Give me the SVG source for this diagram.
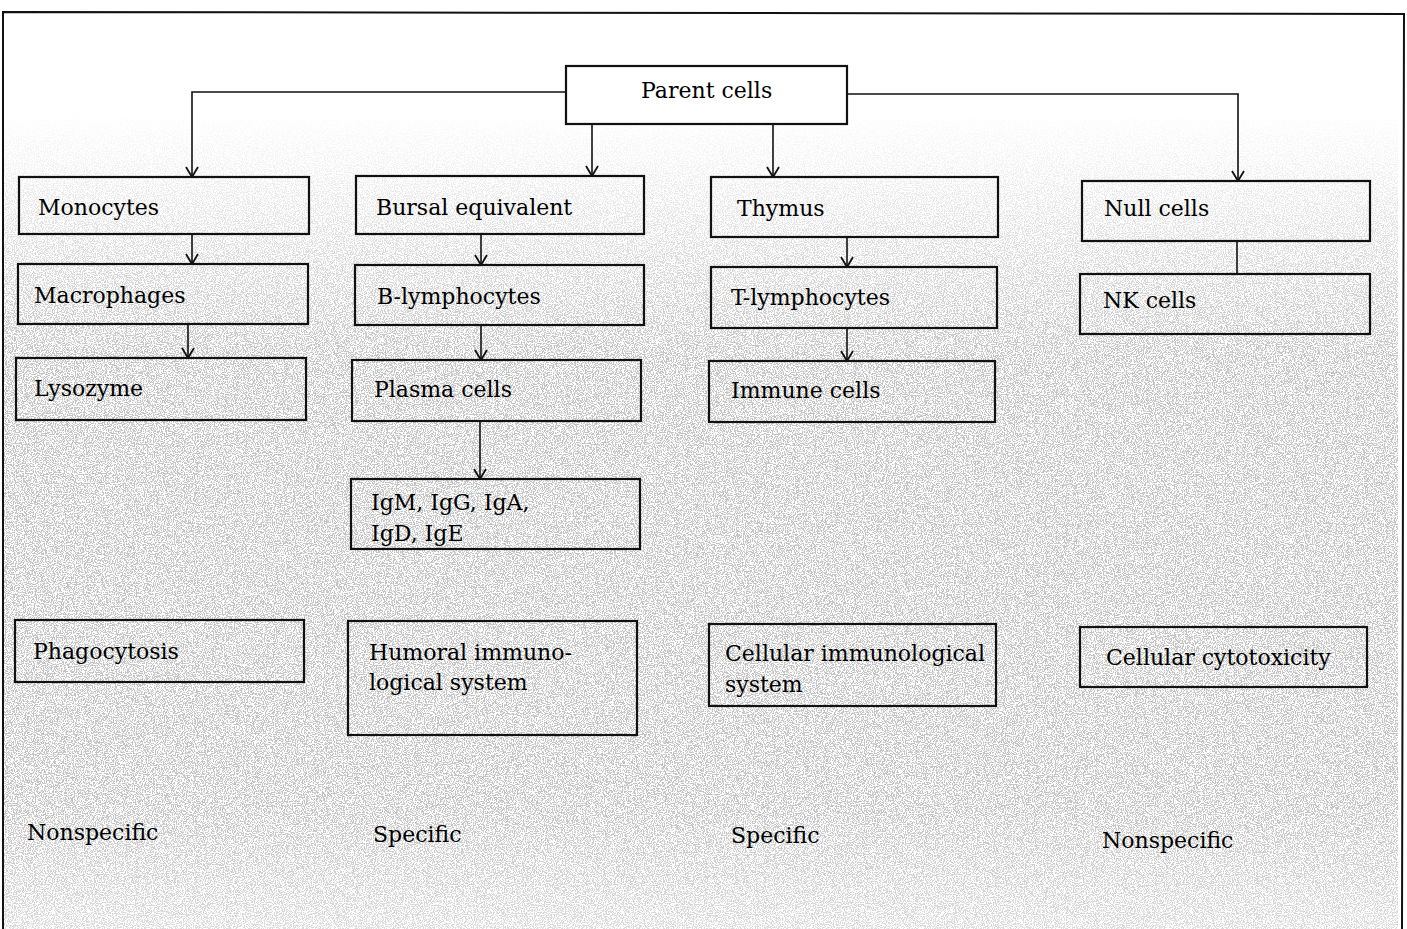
<svg xmlns="http://www.w3.org/2000/svg" width="1407" height="929" viewBox="0 0 1407 929">
<style>
.box{fill:none;stroke:#111;stroke-width:2.2}
.t{font-family:"DejaVu Serif","Liberation Serif",serif;font-size:22px;fill:#000}
.c{fill:none;stroke:#111;stroke-width:1.6}
.frame{fill:none;stroke:#111;stroke-width:2}
</style>
<defs>
<marker id="ah" viewBox="0 0 12 14" refX="11" refY="7" markerWidth="12" markerHeight="14" markerUnits="userSpaceOnUse" orient="auto">
<path d="M1,1 L11,7 L1,13" fill="none" stroke="#111" stroke-width="1.8"/>
</marker>
<filter id="speck" x="0" y="0" width="100%" height="100%">
<feTurbulence type="fractalNoise" baseFrequency="0.9" numOctaves="2" seed="7" result="n"/>
<feColorMatrix in="n" type="matrix" values="0 0 0 0 0.3  0 0 0 0 0.3  0 0 0 0 0.3  0 0 0 -9 4.9" result="d"/>
<feComposite in="d" in2="SourceGraphic" operator="in"/>
</filter>
<linearGradient id="fade" x1="0" y1="0" x2="0" y2="1">
<stop offset="0" stop-color="#fff" stop-opacity="0"/>
<stop offset="0.3" stop-color="#fff" stop-opacity="1"/>
<stop offset="0.85" stop-color="#fff" stop-opacity="1"/>
<stop offset="1" stop-color="#fff" stop-opacity="0.6"/>
</linearGradient>
</defs>
<rect width="1407" height="929" fill="#fff"/>
<rect x="4" y="110" width="1394" height="819" fill="url(#fade)" filter="url(#speck)" opacity="0.55"/>
<g id="frame">
<path class="frame" d="M3,929 L3,12 L1404,14 L1402,929"/>
</g>
<g id="connectors">
<path class="c" d="M566,92 L192,92 L192,177" marker-end="url(#ah)"/>
<path class="c" d="M847,94 L1238,94 L1238,181" marker-end="url(#ah)"/>
<path class="c" d="M592,124 L592,176" marker-end="url(#ah)"/>
<path class="c" d="M773,124 L773,177" marker-end="url(#ah)"/>
<path class="c" d="M192,234 L192,264" marker-end="url(#ah)"/>
<path class="c" d="M188,324 L188,358" marker-end="url(#ah)"/>
<path class="c" d="M481,234 L481,265" marker-end="url(#ah)"/>
<path class="c" d="M481,325 L481,360" marker-end="url(#ah)"/>
<path class="c" d="M480,421 L480,479" marker-end="url(#ah)"/>
<path class="c" d="M847,237 L847,267" marker-end="url(#ah)"/>
<path class="c" d="M847,328 L847,361" marker-end="url(#ah)"/>
<path class="c" d="M1237,241 L1237,274"/>
</g>
<g id="parent"><rect class="box" x="566" y="66" width="281" height="58"/><text class="t" x="641" y="98">Parent cells</text></g>
<g id="monocytes"><rect class="box" x="19" y="177" width="290" height="57"/><text class="t" x="38" y="215">Monocytes</text></g>
<g id="bursal"><rect class="box" x="356" y="176" width="288" height="58"/><text class="t" x="376" y="215">Bursal equivalent</text></g>
<g id="thymus"><rect class="box" x="711" y="177" width="287" height="60"/><text class="t" x="737" y="216">Thymus</text></g>
<g id="nullcells"><rect class="box" x="1082" y="181" width="288" height="60"/><text class="t" x="1104" y="216">Null cells</text></g>
<g id="macrophages"><rect class="box" x="18" y="264" width="290" height="60"/><text class="t" x="34" y="303">Macrophages</text></g>
<g id="blymph"><rect class="box" x="355" y="265" width="289" height="60"/><text class="t" x="377" y="304">B-lymphocytes</text></g>
<g id="tlymph"><rect class="box" x="711" y="267" width="286" height="61"/><text class="t" x="731" y="305">T-lymphocytes</text></g>
<g id="nkcells"><rect class="box" x="1080" y="274" width="290" height="60"/><text class="t" x="1103" y="308">NK cells</text></g>
<g id="lysozyme"><rect class="box" x="16" y="358" width="290" height="62"/><text class="t" x="34" y="396">Lysozyme</text></g>
<g id="plasma"><rect class="box" x="352" y="360" width="289" height="61"/><text class="t" x="374" y="397">Plasma cells</text></g>
<g id="immune"><rect class="box" x="709" y="361" width="286" height="61"/><text class="t" x="731" y="398">Immune cells</text></g>
<g id="ig"><rect class="box" x="351" y="479" width="289" height="70"/><text class="t" x="371" y="510">IgM, IgG, IgA,</text><text class="t" x="371" y="541">IgD, IgE</text></g>
<g id="phago"><rect class="box" x="15" y="620" width="289" height="62"/><text class="t" x="33" y="659">Phagocytosis</text></g>
<g id="humoral"><rect class="box" x="348" y="621" width="289" height="114"/><text class="t" x="369" y="660">Humoral immuno-</text><text class="t" x="369" y="690">logical system</text></g>
<g id="cellular"><rect class="box" x="709" y="624" width="287" height="82"/><text class="t" x="725" y="661">Cellular immunological</text><text class="t" x="725" y="692">system</text></g>
<g id="cytotox"><rect class="box" x="1080" y="627" width="287" height="60"/><text class="t" x="1106" y="665">Cellular cytotoxicity</text></g>
<g id="labels">
<text class="t" x="27" y="840">Nonspecific</text>
<text class="t" x="373" y="842">Specific</text>
<text class="t" x="731" y="843">Specific</text>
<text class="t" x="1102" y="848">Nonspecific</text>
</g>
</svg>
